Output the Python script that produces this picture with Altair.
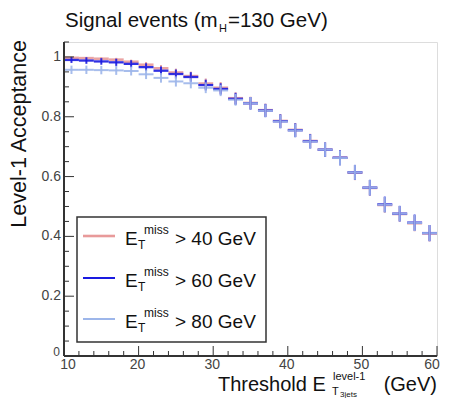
import altair as alt
import pandas as pd

# ---- data ----
x_centers = [11, 13, 15, 17, 19, 21, 23, 25, 27, 29, 31, 33, 35, 37, 39, 41, 43, 45, 47, 49, 51, 53, 55, 57, 59]
bin_half = 1.0
acc_40 = [0.997, 0.996, 0.994, 0.991, 0.984, 0.974, 0.962, 0.948, 0.936, 0.911, 0.897, 0.862, 0.846, 0.822, 0.786,
          0.756, 0.719, 0.690, 0.663, 0.613, 0.562, 0.505, 0.475, 0.444, 0.410]
acc_60 = [0.990, 0.988, 0.985, 0.982, 0.977, 0.966, 0.954, 0.943, 0.933, 0.906, 0.893, 0.860, 0.845, 0.821, 0.785,
          0.755, 0.718, 0.690, 0.663, 0.614, 0.563, 0.507, 0.476, 0.446, 0.411]
acc_80 = [0.957, 0.957, 0.956, 0.955, 0.953, 0.942, 0.930, 0.918, 0.912, 0.897, 0.888, 0.857, 0.845, 0.820, 0.784,
          0.754, 0.717, 0.690, 0.662, 0.614, 0.563, 0.506, 0.476, 0.445, 0.411]
err_40 = [0.004, 0.004, 0.005, 0.006, 0.007, 0.009, 0.011, 0.013, 0.015, 0.017, 0.019, 0.020, 0.021, 0.022, 0.023,
          0.023, 0.024, 0.024, 0.025, 0.025, 0.026, 0.026, 0.026, 0.027, 0.027]
err_60 = [0.010, 0.011, 0.011, 0.012, 0.012, 0.013, 0.014, 0.015, 0.016, 0.018, 0.019, 0.020, 0.021, 0.022, 0.023,
          0.023, 0.024, 0.024, 0.025, 0.025, 0.026, 0.026, 0.026, 0.027, 0.027]
err_80 = [0.014, 0.014, 0.014, 0.015, 0.015, 0.016, 0.016, 0.017, 0.017, 0.018, 0.019, 0.020, 0.021, 0.022, 0.023,
          0.023, 0.024, 0.024, 0.025, 0.025, 0.026, 0.026, 0.026, 0.027, 0.027]
series_names = ["> 40 GeV", "> 60 GeV", "> 80 GeV"]
series_colors = ["#e89a9a", "#1a1ae0", "#9db6ea"]
series_opacity = [0.9, 0.9, 0.8]

x_major = [10, 20, 30, 40, 50, 60]
x_major_labels = ["10", "20", "30", "40", "50", "60"]
x_minor = [12, 14, 16, 18, 22, 24, 26, 28, 32, 34, 36, 38, 42, 44, 46, 48, 52, 54, 56, 58]
y_major = [0, 0.2, 0.4, 0.6, 0.8, 1.0]
y_major_labels = ["0", "0.2", "0.4", "0.6", "0.8", "1"]
y_minor = [0.05, 0.1, 0.15, 0.25, 0.3, 0.35, 0.45, 0.5, 0.55, 0.65, 0.7, 0.75, 0.85, 0.9, 0.95, 1.05]

rows = []
for name, acc, err in zip(series_names, [acc_40, acc_60, acc_80], [err_40, err_60, err_80]):
    for xc, a, e in zip(x_centers, acc, err):
        rows.append(dict(series=name, x=xc, xlo=xc - bin_half, xhi=xc + bin_half, y=a, ylo=a - e, yhi=a + e))
df = pd.DataFrame(rows)

W, H = 373, 314
FONT = "Liberation Sans"

xs = alt.Scale(domain=[10, 60], nice=False, zero=False)
ys = alt.Scale(domain=[0, 1.05], nice=False, zero=False)
cs = alt.Scale(domain=series_names, range=series_colors)
os_ = alt.Scale(domain=series_names, range=series_opacity)
sw = alt.Scale(domain=series_names, range=[2.6, 2, 2])

base = alt.Chart(df)
hbars = base.mark_rule().encode(
    x=alt.X("xlo:Q", scale=xs, axis=None),
    x2="xhi:Q",
    y=alt.Y("y:Q", scale=ys, axis=None),
    color=alt.Color("series:N", scale=cs, legend=None),
    opacity=alt.Opacity("series:N", scale=os_, legend=None),
    strokeWidth=alt.StrokeWidth("series:N", scale=sw, legend=None),
)
vbars = base.mark_rule(strokeWidth=2).encode(
    x=alt.X("x:Q", scale=xs, axis=None),
    y=alt.Y("ylo:Q", scale=ys, axis=None),
    y2="yhi:Q",
    color=alt.Color("series:N", scale=cs, legend=None),
    opacity=alt.Opacity("series:N", scale=os_, legend=None),
)

tick_color = "#333"
lab_color = "#444"
xmaj_df = pd.DataFrame({"v": x_major, "lab": x_major_labels})
ymaj_df = pd.DataFrame({"v": y_major, "lab": y_major_labels})

xmaj = alt.Chart(xmaj_df).mark_rule(color=tick_color, strokeWidth=1).encode(
    x=alt.X("v:Q", scale=xs, axis=None), y=alt.value(H), y2=alt.value(H - 10))
xmin = alt.Chart(pd.DataFrame({"v": x_minor})).mark_rule(color=tick_color, strokeWidth=1).encode(
    x=alt.X("v:Q", scale=xs, axis=None), y=alt.value(H), y2=alt.value(H - 5))
ymaj = alt.Chart(ymaj_df).mark_rule(color=tick_color, strokeWidth=1).encode(
    y=alt.Y("v:Q", scale=ys, axis=None), x=alt.value(0), x2=alt.value(10))
ymin = alt.Chart(pd.DataFrame({"v": y_minor})).mark_rule(color=tick_color, strokeWidth=1).encode(
    y=alt.Y("v:Q", scale=ys, axis=None), x=alt.value(0), x2=alt.value(5))


def xlab_layer(flt, dx):
    return alt.Chart(xmaj_df).transform_filter(flt).mark_text(
        font=FONT, fontSize=14, color=lab_color, baseline="top", dx=dx).encode(
        x=alt.X("v:Q", scale=xs, axis=None), y=alt.value(H + 2), text="lab:N")


xlabels = [
    xlab_layer("datum.v == 10", 4),
    xlab_layer("datum.v > 10 && datum.v < 60", -1),
    xlab_layer("datum.v == 60", -5),
]
ylabels_rest = alt.Chart(ymaj_df).transform_filter("datum.v > 0").mark_text(
    font=FONT, fontSize=14, color=lab_color, baseline="middle", align="right").encode(
    y=alt.Y("v:Q", scale=ys, axis=None), x=alt.value(-3), text="lab:N")
ylabels_zero = alt.Chart(ymaj_df).transform_filter("datum.v == 0").mark_text(
    font=FONT, fontSize=12, color=lab_color, baseline="middle", align="right", dy=-4).encode(
    y=alt.Y("v:Q", scale=ys, axis=None), x=alt.value(-4), text="lab:N")

one = pd.DataFrame({"a": [0]})

axis_lines = [
    alt.Chart(one).mark_rule(color="#333", strokeWidth=2).encode(
        x=alt.value(0), y=alt.value(0), y2=alt.value(H)),
    alt.Chart(one).mark_rule(color="#333", strokeWidth=2).encode(
        x=alt.value(0), x2=alt.value(W), y=alt.value(H)),
]


def txt(s, x, y, size, align="left", color="#111", baseline="alphabetic", angle=0):
    return alt.Chart(one).mark_text(text=s, font=FONT, fontSize=size, align=align, baseline=baseline,
                                    color=color, angle=angle).encode(x=alt.value(x), y=alt.value(y))


# legend box
legend_layers = [
    alt.Chart(one).mark_rect(fill="white", stroke="#333", strokeWidth=1.5).encode(
        x=alt.value(13), x2=alt.value(202), y=alt.value(175), y2=alt.value(300))
]
row_centers = [196, 238, 279]
legend_widths = [2.6, 2, 2]
for name, col, rc, lw in zip(series_names, series_colors, row_centers, legend_widths):
    legend_layers.append(alt.Chart(one).mark_rule(color=col, strokeWidth=lw).encode(
        x=alt.value(19), x2=alt.value(51), y=alt.value(rc - 2)))
    legend_layers.append(txt("E", 61, rc + 7, 19))
    legend_layers.append(txt("miss", 80, rc - 4, 12))
    legend_layers.append(txt("T", 74, rc + 11, 12))
    legend_layers.append(txt(name, 111, rc + 7, 19))

# title
title_layers = [
    txt("Signal events (m", 1, -15, 20.5),
    txt("H", 155, -10, 11),
    txt("=130 GeV)", 164, -15, 20.5),
]

# y-axis title
ytitle = txt("Level-1 Acceptance", -38, -2, 21.5, align="right", angle=270)

# x-axis title
xtitle_layers = [
    txt("Threshold E", 154, 349, 20),
    txt("level-1", 269, 338, 11),
    txt("T", 268, 353, 11),
    txt("3jets", 276, 355, 8),
    txt("(GeV)", W, 349, 20, align="right"),
]

chart = alt.layer(
    hbars, vbars, xmaj, xmin, ymaj, ymin, *axis_lines, *xlabels, ylabels_rest, ylabels_zero,
    ytitle, *legend_layers, *title_layers, *xtitle_layers
).properties(
    width=W, height=H,
    autosize=alt.AutoSizeParams(type="none"),
    padding={"left": 56, "top": 34, "right": 5, "bottom": 42},
).configure_view(stroke="#555", strokeWidth=1.5).configure(background="white")

chart.save("out.html", embed_options={"renderer": "svg", "actions": False})
